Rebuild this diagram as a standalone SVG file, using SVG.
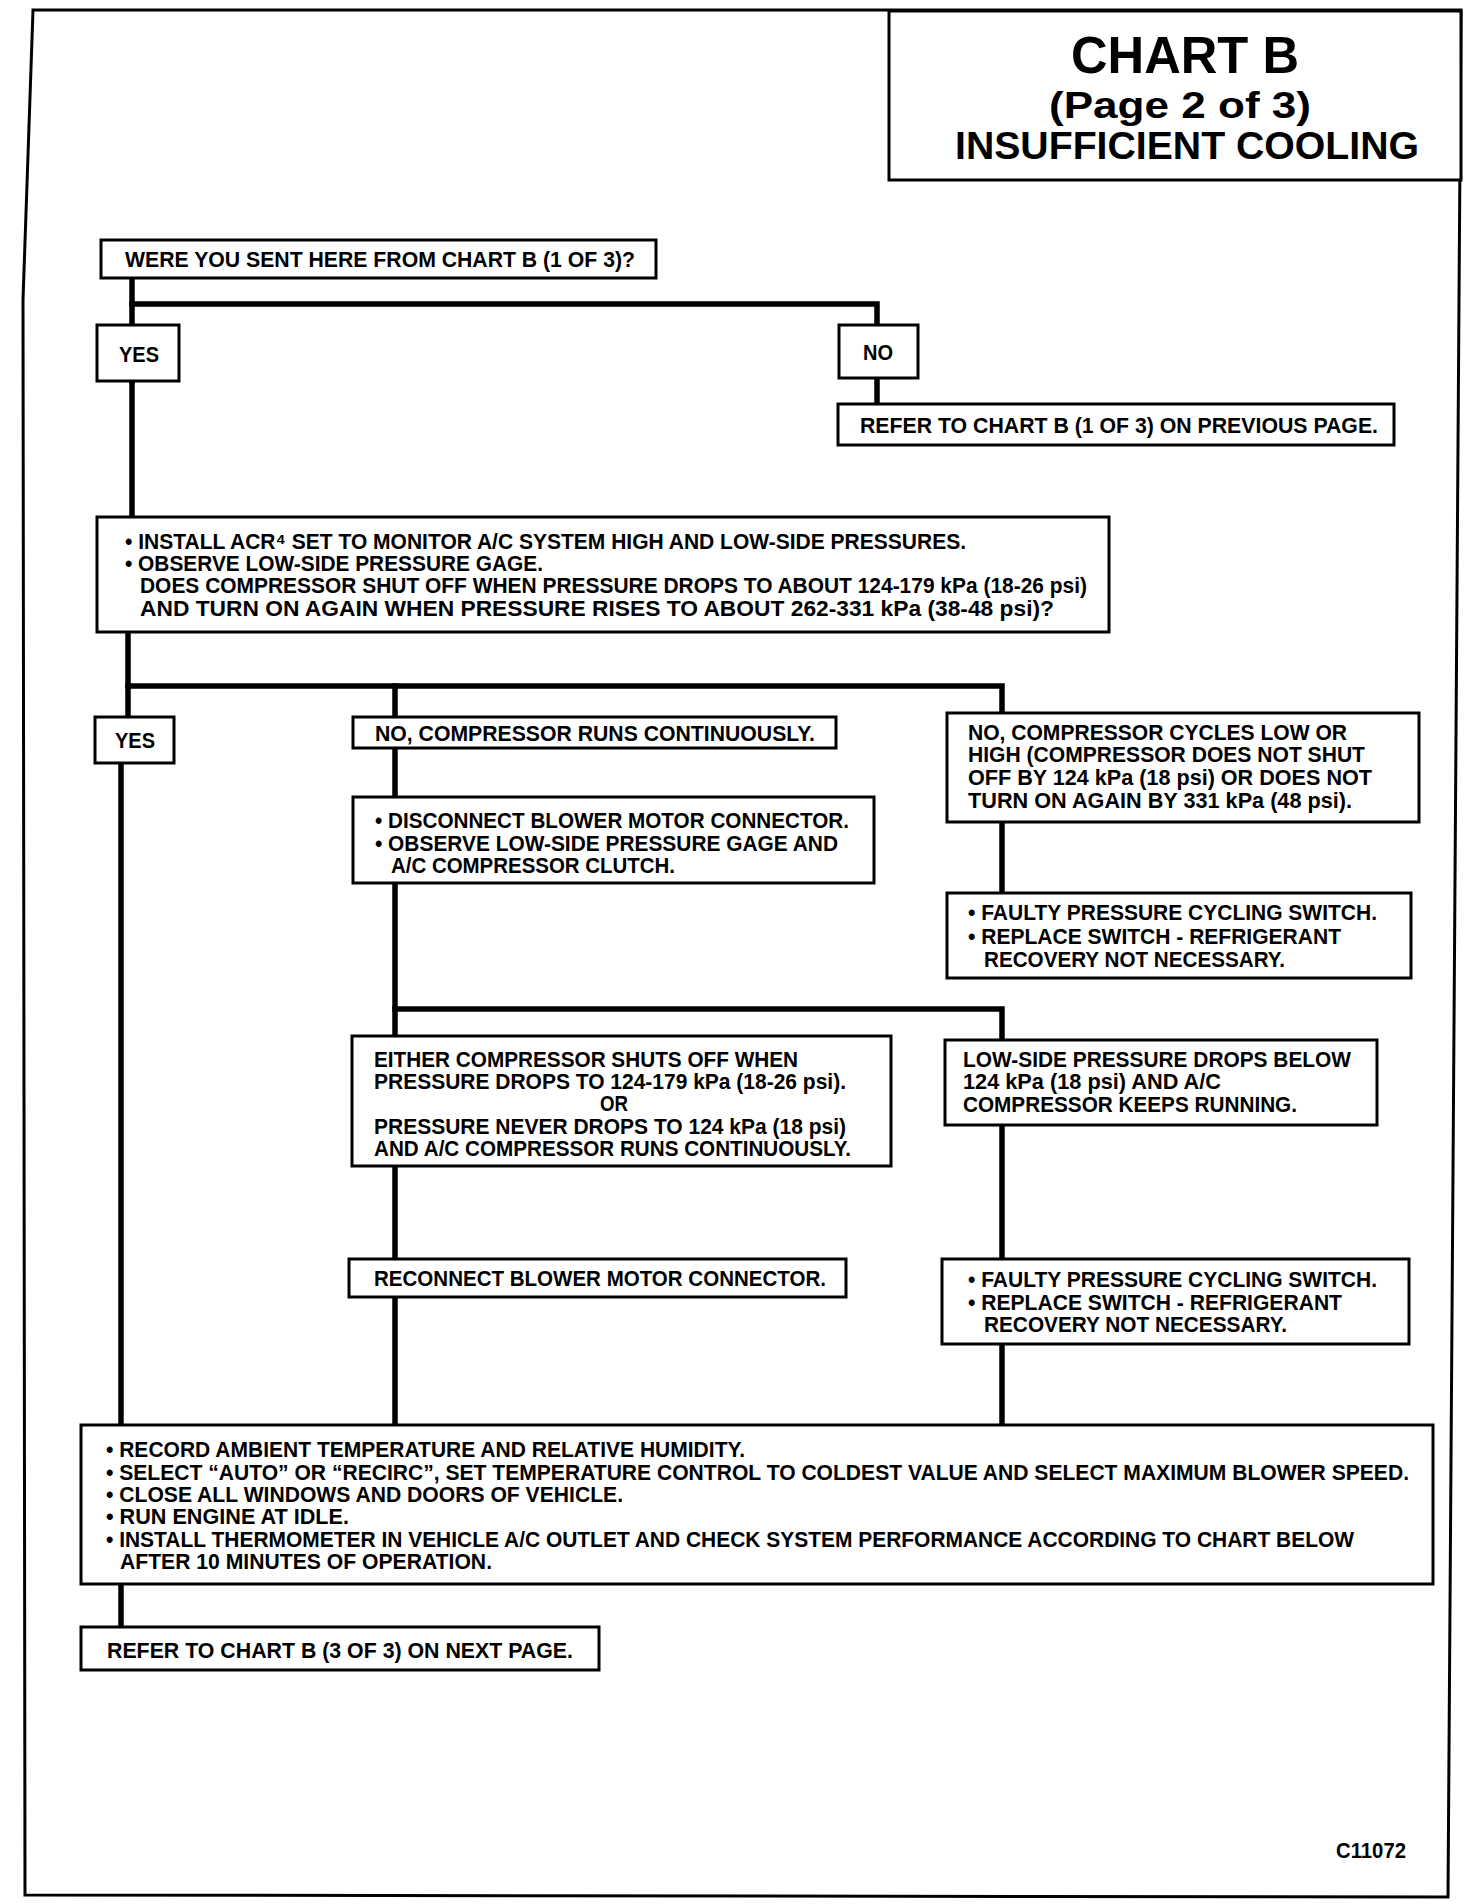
<svg xmlns="http://www.w3.org/2000/svg" width="1472" height="1904" viewBox="0 0 1472 1904">
<style>
.bx{fill:#fff;stroke:#000;stroke-width:3}
.t{font-family:"Liberation Sans",Arial,sans-serif;font-weight:bold;font-size:22px;fill:#000}
.ttl{font-family:"Liberation Sans",Arial,sans-serif;font-weight:bold;fill:#000;text-anchor:middle}
.c{fill:none;stroke:#000;stroke-width:5.5;stroke-linecap:square}
</style>
<rect width="1472" height="1904" fill="#fff"/>
<path d="M33,10 L23,300 L25,1895 L1448,1897 L1461,10 Z" fill="none" stroke="#000" stroke-width="3"/>
<g id="title">
<rect class="bx" x="889" y="11" width="572" height="169"/>
<text class="ttl" x="1185" y="73" font-size="52" textLength="228" lengthAdjust="spacingAndGlyphs">CHART B</text>
<text class="ttl" x="1180" y="118" font-size="36" textLength="262" lengthAdjust="spacingAndGlyphs">(Page 2 of 3)</text>
<text class="ttl" x="1187" y="159" font-size="38" textLength="464" lengthAdjust="spacingAndGlyphs">INSUFFICIENT COOLING</text>
</g>
<g id="connectors">
<path class="c" d="M132,278 V381"/>
<path class="c" d="M132,304 H877 V325"/>
<path class="c" d="M877,378 V404"/>
<path class="c" d="M132,381 V517"/>
<path class="c" d="M128,632 V717"/>
<path class="c" d="M128,686 H1002 V713"/>
<path class="c" d="M395,686 V717"/>
<path class="c" d="M121,763 V1425"/>
<path class="c" d="M395,748 V797"/>
<path class="c" d="M395,883 V1036"/>
<path class="c" d="M395,1009 H1002 V1040"/>
<path class="c" d="M1002,822 V893"/>
<path class="c" d="M395,1166 V1259"/>
<path class="c" d="M395,1297 V1425"/>
<path class="c" d="M1002,1125 V1259"/>
<path class="c" d="M1002,1344 V1425"/>
<path class="c" d="M121,1584 V1627"/>
</g>
<g id="n-sent">
<rect class="bx" x="101" y="240" width="555" height="38"/>
<text class="t" x="125" y="267" textLength="510" lengthAdjust="spacingAndGlyphs">WERE YOU SENT HERE FROM CHART B (1 OF 3)?</text>
</g>
<g id="n-yes1">
<rect class="bx" x="97" y="325" width="82" height="56"/>
<text class="t" x="119" y="362" textLength="40" lengthAdjust="spacingAndGlyphs">YES</text>
</g>
<g id="n-no1">
<rect class="bx" x="839" y="325" width="79" height="53"/>
<text class="t" x="863" y="360" textLength="30" lengthAdjust="spacingAndGlyphs">NO</text>
</g>
<g id="n-refer1">
<rect class="bx" x="838" y="404" width="556" height="41"/>
<text class="t" x="860" y="433" textLength="518" lengthAdjust="spacingAndGlyphs">REFER TO CHART B (1 OF 3) ON PREVIOUS PAGE.</text>
</g>
<g id="n-install">
<rect class="bx" x="97" y="517" width="1012" height="115"/>
<text class="t" x="125" y="549" textLength="841" lengthAdjust="spacingAndGlyphs">• INSTALL ACR⁴ SET TO MONITOR A/C SYSTEM HIGH AND LOW-SIDE PRESSURES.</text>
<text class="t" x="125" y="571" textLength="418" lengthAdjust="spacingAndGlyphs">• OBSERVE LOW-SIDE PRESSURE GAGE.</text>
<text class="t" x="140" y="593" textLength="947" lengthAdjust="spacingAndGlyphs">DOES COMPRESSOR SHUT OFF WHEN PRESSURE DROPS TO ABOUT 124-179 kPa (18-26 psi)</text>
<text class="t" x="140" y="616" textLength="914" lengthAdjust="spacingAndGlyphs">AND TURN ON AGAIN WHEN PRESSURE RISES TO ABOUT 262-331 kPa (38-48 psi)?</text>
</g>
<g id="n-yes2">
<rect class="bx" x="95" y="717" width="79" height="46"/>
<text class="t" x="115" y="748" textLength="40" lengthAdjust="spacingAndGlyphs">YES</text>
</g>
<g id="n-runs">
<rect class="bx" x="353" y="717" width="483" height="31"/>
<text class="t" x="375" y="741" textLength="440" lengthAdjust="spacingAndGlyphs">NO, COMPRESSOR RUNS CONTINUOUSLY.</text>
</g>
<g id="n-disconnect">
<rect class="bx" x="353" y="797" width="521" height="86"/>
<text class="t" x="375" y="828" textLength="474" lengthAdjust="spacingAndGlyphs">• DISCONNECT BLOWER MOTOR CONNECTOR.</text>
<text class="t" x="375" y="851" textLength="463" lengthAdjust="spacingAndGlyphs">• OBSERVE LOW-SIDE PRESSURE GAGE AND</text>
<text class="t" x="391" y="873" textLength="284" lengthAdjust="spacingAndGlyphs">A/C COMPRESSOR CLUTCH.</text>
</g>
<g id="n-cycles">
<rect class="bx" x="947" y="713" width="472" height="109"/>
<text class="t" x="968" y="740" textLength="379" lengthAdjust="spacingAndGlyphs">NO, COMPRESSOR CYCLES LOW OR</text>
<text class="t" x="968" y="762" textLength="397" lengthAdjust="spacingAndGlyphs">HIGH (COMPRESSOR DOES NOT SHUT</text>
<text class="t" x="968" y="785" textLength="404" lengthAdjust="spacingAndGlyphs">OFF BY 124 kPa (18 psi) OR DOES NOT</text>
<text class="t" x="968" y="808" textLength="384" lengthAdjust="spacingAndGlyphs">TURN ON AGAIN BY 331 kPa (48 psi).</text>
</g>
<g id="n-faulty1">
<rect class="bx" x="947" y="893" width="464" height="85"/>
<text class="t" x="968" y="920" textLength="409" lengthAdjust="spacingAndGlyphs">• FAULTY PRESSURE CYCLING SWITCH.</text>
<text class="t" x="968" y="944" textLength="373" lengthAdjust="spacingAndGlyphs">• REPLACE SWITCH - REFRIGERANT</text>
<text class="t" x="984" y="967" textLength="301" lengthAdjust="spacingAndGlyphs">RECOVERY NOT NECESSARY.</text>
</g>
<g id="n-either">
<rect class="bx" x="352" y="1036" width="539" height="130"/>
<text class="t" x="374" y="1067" textLength="424" lengthAdjust="spacingAndGlyphs">EITHER COMPRESSOR SHUTS OFF WHEN</text>
<text class="t" x="374" y="1089" textLength="472" lengthAdjust="spacingAndGlyphs">PRESSURE DROPS TO 124-179 kPa (18-26 psi).</text>
<text class="t" x="600" y="1111" textLength="28" lengthAdjust="spacingAndGlyphs">OR</text>
<text class="t" x="374" y="1134" textLength="472" lengthAdjust="spacingAndGlyphs">PRESSURE NEVER DROPS TO 124 kPa (18 psi)</text>
<text class="t" x="374" y="1156" textLength="477" lengthAdjust="spacingAndGlyphs">AND A/C COMPRESSOR RUNS CONTINUOUSLY.</text>
</g>
<g id="n-lowside">
<rect class="bx" x="945" y="1040" width="432" height="85"/>
<text class="t" x="963" y="1067" textLength="388" lengthAdjust="spacingAndGlyphs">LOW-SIDE PRESSURE DROPS BELOW</text>
<text class="t" x="963" y="1089" textLength="258" lengthAdjust="spacingAndGlyphs">124 kPa (18 psi) AND A/C</text>
<text class="t" x="963" y="1112" textLength="334" lengthAdjust="spacingAndGlyphs">COMPRESSOR KEEPS RUNNING.</text>
</g>
<g id="n-reconnect">
<rect class="bx" x="349" y="1259" width="497" height="38"/>
<text class="t" x="374" y="1286" textLength="452" lengthAdjust="spacingAndGlyphs">RECONNECT BLOWER MOTOR CONNECTOR.</text>
</g>
<g id="n-faulty2">
<rect class="bx" x="942" y="1259" width="467" height="85"/>
<text class="t" x="968" y="1287" textLength="409" lengthAdjust="spacingAndGlyphs">• FAULTY PRESSURE CYCLING SWITCH.</text>
<text class="t" x="968" y="1310" textLength="374" lengthAdjust="spacingAndGlyphs">• REPLACE SWITCH - REFRIGERANT</text>
<text class="t" x="984" y="1332" textLength="303" lengthAdjust="spacingAndGlyphs">RECOVERY NOT NECESSARY.</text>
</g>
<g id="n-record">
<rect class="bx" x="81" y="1425" width="1352" height="159"/>
<text class="t" x="106" y="1457" textLength="639" lengthAdjust="spacingAndGlyphs">• RECORD AMBIENT TEMPERATURE AND RELATIVE HUMIDITY.</text>
<text class="t" x="106" y="1480" textLength="1303" lengthAdjust="spacingAndGlyphs">• SELECT “AUTO” OR “RECIRC”, SET TEMPERATURE CONTROL TO COLDEST VALUE AND SELECT MAXIMUM BLOWER SPEED.</text>
<text class="t" x="106" y="1502" textLength="517" lengthAdjust="spacingAndGlyphs">• CLOSE ALL WINDOWS AND DOORS OF VEHICLE.</text>
<text class="t" x="106" y="1524" textLength="243" lengthAdjust="spacingAndGlyphs">• RUN ENGINE AT IDLE.</text>
<text class="t" x="106" y="1547" textLength="1248" lengthAdjust="spacingAndGlyphs">• INSTALL THERMOMETER IN VEHICLE A/C OUTLET AND CHECK SYSTEM PERFORMANCE ACCORDING TO CHART BELOW</text>
<text class="t" x="120" y="1569" textLength="372" lengthAdjust="spacingAndGlyphs">AFTER 10 MINUTES OF OPERATION.</text>
</g>
<g id="n-refer3">
<rect class="bx" x="81" y="1627" width="518" height="43"/>
<text class="t" x="107" y="1658" textLength="466" lengthAdjust="spacingAndGlyphs">REFER TO CHART B (3 OF 3) ON NEXT PAGE.</text>
</g>
<text class="t" x="1336" y="1858" font-size="20" textLength="70" lengthAdjust="spacingAndGlyphs">C11072</text>
</svg>
